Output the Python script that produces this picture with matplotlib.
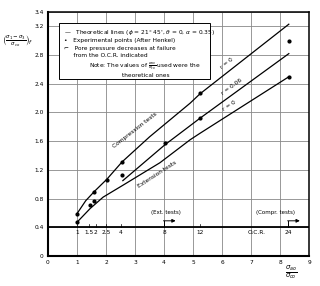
import matplotlib
matplotlib.use("Agg")
import matplotlib.pyplot as plt
from matplotlib.patches import Rectangle

# theoretical lines
comp_x = [1.0, 1.3, 1.6, 2.03, 2.55, 3.5, 4.9, 5.24, 8.3]
comp_y = [0.59, 0.77, 0.90, 1.07, 1.31, 1.66, 2.13, 2.26, 3.23]
mid_x = [2.58, 4.03, 5.24, 8.3]
mid_y = [1.05, 1.55, 1.92, 2.82]
ext_x = [1.0, 1.45, 1.9, 2.6, 3.86, 4.9, 5.24, 8.31]
ext_y = [0.47, 0.66, 0.82, 0.99, 1.30, 1.62, 1.71, 2.50]

# experimental points (Henkel)
pts_x = [1.0, 1.0, 1.45, 1.59, 1.59, 2.03, 2.55, 2.55, 4.03, 5.24, 5.24, 8.31, 8.31]
pts_y = [0.59, 0.47, 0.71, 0.77, 0.89, 1.06, 1.31, 1.13, 1.58, 2.27, 1.92, 2.99, 2.50]

# O.C.R. scale along y = 0.4
ocr_pos = [1.0, 1.41, 1.65, 2.0, 2.5, 4.0, 5.24, 8.28]
ocr_lab = ["1", "1.5", "2", "2.5", "4", "8", "12", "24"]

yticks = [0, 0.4, 0.8, 1.2, 1.6, 2.0, 2.4, 2.8, 3.2, 3.4]
ylabels = ["0", "0.4", "0.8", "1.2", "1.6", "2.0", "2.4", "2.8", "3.2", "3.4"]

fig = plt.figure(figsize=(3.2, 2.86), dpi=100)
ax = fig.add_axes([0.15, 0.105, 0.816, 0.853])

ax.set_xlim(0, 9)
ax.set_ylim(0, 3.4)
ax.set_xticks(range(10))
ax.set_yticks(yticks)
ax.set_yticklabels(ylabels)
ax.tick_params(labelsize=4.2, length=0, pad=3)
ax.grid(True, color="#888888", linewidth=0.6)
for s in ax.spines.values():
    s.set_linewidth(1.1)
ax.spines["left"].set_linewidth(1.5)
ax.spines["bottom"].set_linewidth(1.5)

ax.plot(comp_x, comp_y, color="black", linewidth=0.9)
ax.plot(mid_x, mid_y, color="black", linewidth=0.9)
ax.plot(ext_x, ext_y, color="black", linewidth=0.9)
ax.plot(pts_x, pts_y, "o", color="black", markersize=2)

# line labels
ax.text(3.0, 1.76, "Compression tests", rotation=38, fontsize=4.2, ha="center", va="center")
ax.text(3.75, 1.13, "Extension tests", rotation=33, fontsize=4.2, ha="center", va="center")
ax.text(6.15, 2.68, "r = 0", rotation=38, fontsize=4.2, ha="center", va="center")
ax.text(6.35, 2.36, "r = 0.06", rotation=36, fontsize=4.2, ha="center", va="center")
ax.text(6.25, 2.09, "r = 0", rotation=33, fontsize=4.2, ha="center", va="center")

# O.C.R. axis
ax.plot([0, 9], [0.4, 0.4], color="black", linewidth=1.3)
for xp, lab in zip(ocr_pos, ocr_lab):
    ax.plot([xp, xp], [0.4, 0.44], color="black", linewidth=0.5)
    ax.text(xp, 0.33, lab, fontsize=4.2, ha="center", va="center")
ax.text(7.2, 0.33, "O.C.R.", fontsize=4.2, ha="center", va="center")
ax.text(4.05, 0.6, "(Ext. tests)", fontsize=4, ha="center", va="center")
ax.text(7.85, 0.6, "(Compr. tests)", fontsize=4, ha="center", va="center")
for xp in [4.0, 8.28]:
    ax.plot([xp, xp], [0.4, 0.49], color="black", linewidth=0.7)
    ax.annotate("", xy=(xp + 0.4, 0.49), xytext=(xp - 0.02, 0.49),
                arrowprops=dict(arrowstyle="-|>", color="black", lw=0.7,
                                mutation_scale=5, shrinkA=0, shrinkB=0))

# legend box
ax.add_patch(Rectangle((0.38, 2.46), 5.2, 0.78, facecolor="white",
                       edgecolor="black", linewidth=0.7, zorder=3))
leg = [
    (3.12, "—   Theoretical lines ($\\phi$ = 21° 45', $\\theta$ = 0, $\\alpha$ = 0.35)"),
    (3.0, "•   Experimental points (After Henkel)"),
    (2.89, "⌐   Pore pressure decreases at failure"),
    (2.79, "     from the O.C.R. indicated"),
]
for yy, txt in leg:
    ax.text(0.55, yy, txt, fontsize=4.2, va="center", zorder=4)
ax.text(1.4, 2.64, "Note: The values of $\\frac{\\sigma_{ao}}{\\sigma_{co}}$ used were the",
        fontsize=4.2, va="center", zorder=4)
ax.text(2.55, 2.52, "theoretical ones", fontsize=4.2, va="center", zorder=4)

# axis titles
fig.text(0.055, 0.855, r"$\left(\frac{\sigma_1-\sigma_3}{\sigma_{co}}\right)_f$",
         fontsize=5.5, ha="center", va="center")
fig.text(0.91, 0.05, r"$\frac{\sigma_{ao}}{\sigma_{co}}$", fontsize=7,
         ha="center", va="center")

fig.savefig("out.png", dpi=100)
